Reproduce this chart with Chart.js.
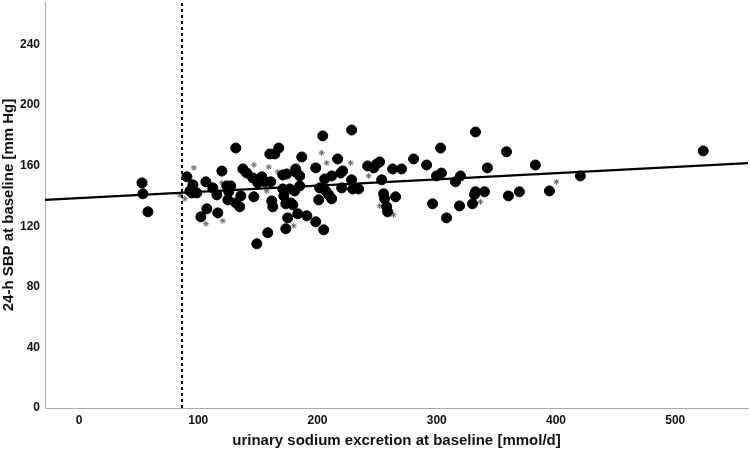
<!DOCTYPE html>
<html>
<head>
<meta charset="utf-8">
<script src="https://cdn.jsdelivr.net/npm/chart.js@4.4.0/dist/chart.umd.min.js"></script>
<style>
    body{margin:0;background:#fff;}
    #grafico{display:block;}
</style>
</head>
<body>
<canvas id="grafico" width="750" height="450"></canvas>
<script>
// sodio urinario [mmol/d] y PAS 24h [mm Hg]
const sodio=[52.8,53.6,57.8,90.5,95.5,93.0,94.6,98.8,106.4,112.2,115.6,107.2,102.2,116.4,119.8,131.5,137.4,140.7,124.0,127.3,
    125.6,124.8,131.5,134.8,135.7,146.6,145.7,149.9,153.3,155.8,160.8,160.0,164.2,167.5,170.9,174.2,181.7,182.6,185.1,186.8,
    170.9,176.7,180.9,185.1,171.7,161.6,162.5,173.4,177.6,179.3,183.4,175.0,173.4,158.3,149.1,191.0,198.5,205.2,198.5,204.4,
    228.6,216.9,221.1,219.4,211.9,206.0,228.6,242.0,247.1,252.1,249.6,253.8,201.8,220.3,229.5,234.5,206.9,209.4,211.9,201.0,
    255.4,256.3,258.0,258.8,263.0,270.5,280.6,291.5,303.2,299.8,304.0,315.7,319.9,332.5,265.5,296.5,308.2,319.1,330.0,332.5,
    331.7,340.0,342.5,358.5,360.1,369.3,382.7,394.5,420.4,523.5];
const pas=[148.6,141.4,129.5,152.6,147.3,143.3,142.0,142.0,149.3,145.3,140.7,131.5,126.2,128.8,156.4,171.6,157.8,155.1,146.6,146.6,
    142.7,137.4,135.4,132.8,140.0,139.4,151.9,148.6,152.6,149.3,149.3,167.7,167.7,171.6,153.8,154.5,157.8,155.1,153.2,165.7,
    144.6,144.6,143.3,146.6,140.0,136.7,132.8,134.8,135.4,134.1,128.2,125.5,118.3,115.7,108.4,126.9,122.9,117.6,158.5,179.6,
    183.5,164.4,156.5,155.1,153.2,151.2,150.6,159.8,158.5,162.4,161.1,150.6,145.3,145.3,144.6,144.6,143.3,140.7,138.1,137.4,
    141.4,138.1,132.8,129.5,157.8,157.8,164.4,160.4,171.6,153.2,155.1,149.3,153.2,182.2,139.4,134.8,125.5,133.4,134.8,142.7,
    141.0,142.7,158.5,169.1,140.0,142.7,160.4,143.3,153.2,169.7];

// asteriscos grises
const sodioAst=[84.6,88.8,96.3,106.4,119.8,120.6,146.6,159.1,166.7,157.5,180.1,203.5,207.7,227.8,242.9,252.1,263.8,336.7,400.3];
const pasAst=[140.7,138.1,158.5,121.6,148.6,123.6,160.4,159.1,155.8,143.3,120.3,168.4,161.8,161.8,153.2,133.4,127.5,136.1,149.3];

// recta de regresion (extremos) y linea de corte
const rectaX=[-28.5,561];
const rectaY=[137.4,161.6];
const corteX=[86.4,86.4];
const corteY=[0,268];

const ticksX=[0,100,200,300,400,500];
const ticksY=[0,40,80,120,160,200,240];

const aPuntos=(xs,ys)=>xs.map((x,i)=>({x:x,y:ys[i]}));

const fuente='"Liberation Sans", Arial, sans-serif';

const data={
    datasets:[{
        label:'recta',
        type:'line',
        data:aPuntos(rectaX,rectaY),
        borderColor:'#000',
        borderWidth:2.2,
        pointRadius:0,
        order:0
    },{
        label:'corte',
        type:'line',
        data:aPuntos(corteX,corteY),
        borderColor:'#000',
        borderWidth:2,
        borderDash:[3,3],
        pointRadius:0,
        order:1
    },{
        label:'pacientes',
        data:aPuntos(sodio,pas),
        backgroundColor:'#000',
        borderColor:'#000',
        pointRadius:5,
        order:2
    },{
        label:'asteriscos',
        data:aPuntos(sodioAst,pasAst),
        pointStyle:'star',
        pointRadius:3,
        borderWidth:1,
        borderColor:'#666',
        backgroundColor:'#666',
        order:3
    }]
};

const config={
    type:'scatter',
    data,
    options:{
        responsive:false,
        animation:false,
        devicePixelRatio:1,
        layout:{autoPadding:false,padding:{top:2,right:2,left:0,bottom:0}},
        plugins:{legend:{display:false},tooltip:{enabled:false}},
        scales:{
            x:{
                min:-28.5,
                max:561,
                afterBuildTicks:(s)=>{s.ticks=ticksX.map(v=>({value:v}));},
                afterFit:(s)=>{s.height=42;s.paddingLeft=0;s.paddingRight=0;},
                grid:{display:false,drawTicks:false},
                border:{display:true,color:'#aaa',width:1},
                ticks:{color:'#111',font:{family:fuente,size:12,weight:'bold'},padding:5},
                title:{display:true,text:'urinary sodium excretion at baseline [mmol/d]',color:'#111',
                    font:{family:fuente,size:15,weight:'bold'},padding:{top:4,bottom:0}}
            },
            y:{
                min:0,
                max:268,
                afterBuildTicks:(s)=>{s.ticks=ticksY.map(v=>({value:v}));},
                afterFit:(s)=>{s.width=45;s.paddingTop=0;s.paddingBottom=0;},
                grid:{display:false,drawTicks:false},
                border:{display:true,color:'#aaa',width:1},
                ticks:{color:'#111',font:{family:fuente,size:12,weight:'bold'},padding:5},
                title:{display:true,text:'24-h SBP at baseline [mm Hg]',color:'#111',
                    font:{family:fuente,size:15,weight:'bold'},padding:{top:0,bottom:2}}
            }
        }
    }
};

const ctx=document.getElementById('grafico');
const grafico=new Chart(ctx,config);
</script>
</body>
</html>
